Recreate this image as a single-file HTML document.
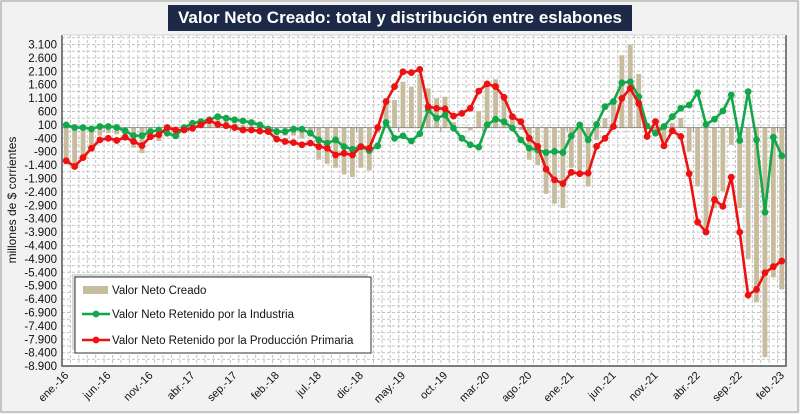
<!DOCTYPE html>
<html><head><meta charset="utf-8">
<style>
html,body{margin:0;padding:0;background:#f2f2f2;}
body{width:800px;height:414px;overflow:hidden;position:relative;font-family:"Liberation Sans",sans-serif;}
#title{position:absolute;left:168px;top:5px;width:464px;height:26px;background:#1c2a48;color:#fff;font-weight:bold;font-size:17px;line-height:26px;text-align:center;}
svg{position:absolute;left:0;top:0;}
</style></head>
<body>
<div id="title">Valor Neto Creado: total y distribución entre eslabones</div>
<svg id="chart" width="800" height="414"></svg>
<script>
const categories=[];(function(){const m=['ene.','feb.','mar.','abr.','may.','jun.','jul.','ago.','sep.','oct.','nov.','dic.'];for(let i=0;i<86;i++){categories.push(m[i%12]+'-'+(16+Math.floor(i/12)));}})();
const valorNetoCreado=[-1150,-1400,-1100,-700,-300,-200,-250,-300,-750,-950,-300,-500,-100,-300,50,200,250,350,450,250,150,100,50,50,-100,-300,-300,-300,-400,-300,-1200,-1350,-1500,-1750,-1850,-1500,-1600,-200,1000,1030,
1710,1530,2000,1460,1090,1150,200,0,-100,620,1530,1800,1030,410,-90,-1200,-1390,-2470,-2840,-3000,-1500,-1600,-2200,-460,350,900,2700,3100,2000,0,-300,-500,170,360,-890,-2200,-3800,-3000,-2380,-640,-3000,-4920,-6520,-8570,-5590,-6040];
const industria=[100,0,0,-50,40,40,0,-120,-300,-300,-150,-90,-210,-310,0,160,220,290,410,350,290,250,190,100,-60,-150,-150,-60,-60,-210,-460,-580,-460,-710,-810,-710,-860,-680,190,-400,
-310,-500,-230,660,350,470,-20,-400,-640,-730,100,310,220,-20,-460,-770,-830,-930,-890,-930,-310,100,-460,120,780,970,1670,1710,1150,60,-210,40,410,720,840,1300,120,310,620,1220,-480,1340,-460,-3160,-360,-1050];
const primaria=[-1240,-1450,-1120,-770,-460,-400,-480,-360,-520,-670,-340,-270,0,-90,-90,-30,100,260,120,70,0,-90,-90,-130,-150,-430,-520,-560,-640,-580,-710,-770,-1020,-960,-1020,-710,-770,0,970,1530,
2080,2050,2170,780,720,700,430,530,720,1360,1630,1530,1130,410,220,-400,-700,-1550,-1950,-2090,-1670,-1720,-1700,-700,-400,40,1090,1460,900,-330,220,-680,-120,-330,-1720,-3530,-3900,-2690,-2940,-1850,-3900,-6250,-6040,-5420,-5190,-4980];
const yTicks=[3100,2600,2100,1600,1100,600,100,-400,-900,-1400,-1900,-2400,-2900,-3400,-3900,-4400,-4900,-5400,-5900,-6400,-6900,-7400,-7900,-8400,-8900];

const NS='http://www.w3.org/2000/svg';
const svg=document.getElementById('chart');
const PL=62,PR=786,PT=35,PB=366;
const n=categories.length, step=(PR-PL)/n;
function X(i){return PL+step*(i+0.5);}
function Y(v){return 44.5+(3100-v)*0.0268;}
function el(t,a,p){const e=document.createElementNS(NS,t);for(const k in a)e.setAttribute(k,a[k]);(p||svg).appendChild(e);return e;}
function fmt(v){const s=Math.abs(v).toString().replace(/\B(?=(\d{3})+(?!\d))/g,'.');return (v<0?'-':'')+s;}

// frame
const frame=el('rect',{x:1,y:1,width:797,height:411,fill:'none',stroke:'#9a9a9a','stroke-width':1});


const plot=el('rect',{x:PL,y:PT,width:PR-PL,height:PB-PT,fill:'#fff'});



// grid
const grid=el('g',{stroke:'#c4c4c4','stroke-width':1,'stroke-dasharray':'3,2'});


for(let i=1;i<n;i++){el('line',{x1:PL+step*i,x2:PL+step*i,y1:PT,y2:PB},grid);}
for(let v=3350;v>-8900;v-=250){el('line',{x1:PL,x2:PR,y1:Y(v),y2:Y(v)},grid);}

// bars
const bars=el('g',{fill:'#c8bc9e'});


valorNetoCreado.forEach((v,i)=>{
  const y0=Y(0),y1=Y(v);
  const r=el('rect',{x:X(i)-2.4,y:Math.min(y0,y1),width:4.8,height:Math.abs(y1-y0)},bars);
  
  
});

// zero line + ticks
const zl=el('line',{x1:PL,x2:PR,y1:Y(0),y2:Y(0),stroke:'#8a8a8a','stroke-width':1});


for(let i=0;i<=n;i+=5){el('line',{x1:PL+step*i,x2:PL+step*i,y1:Y(0),y2:Y(0)+4,stroke:'#8a8a8a'});}

function series(data,color,name){
  const g=el('g',{});
  
  
  el('polyline',{points:data.map((v,i)=>X(i)+','+Y(v)).join(' '),fill:'none',stroke:color,'stroke-width':2.6,'stroke-linejoin':'round'},g);
  data.forEach((v,i)=>{
    const c=el('circle',{cx:X(i),cy:Y(v),r:3.4,fill:color},g);
    
    
  });
}
series(industria,'#12a84a','industria-series');
series(primaria,'#ee1111','produccion-primaria-series');

// border
const bd=el('path',{d:`M${PL} ${PT} V${PB} H${PR} V${PT}`,fill:'none',stroke:'#555','stroke-width':1.5});


el('line',{x1:PL,x2:PR,y1:PT,y2:PT,stroke:'#d0d0d0'});

// y labels
yTicks.forEach(v=>{
  const t=el('text',{x:57,y:Y(v)+4,'text-anchor':'end','font-size':'11.5','fill':'#111','font-family':'Liberation Sans, sans-serif'});
  t.textContent=fmt(v);
  
  
});
const yt=el('text',{x:0,y:0,transform:'translate(16,200) rotate(-90)','text-anchor':'middle','font-size':'12','fill':'#111','font-family':'Liberation Sans, sans-serif'});
yt.textContent='millones de $ corrientes';



// x labels
for(let i=0;i<n;i+=5){
  const x=X(i)+3,y=376;
  const t=el('text',{x:x,y:y,transform:`rotate(-45 ${x} ${y})`,'text-anchor':'end','font-size':'11','fill':'#111','font-family':'Liberation Sans, sans-serif'});
  t.textContent=categories[i];
  
  
}

// legend
const lg=el('g',{});


el('rect',{x:72,y:274,width:296,height:76,fill:'#d8d8d8'},lg);
el('rect',{x:75,y:277,width:296,height:76,fill:'#fff',stroke:'#333','stroke-width':1},lg);
const entries=[['Valor Neto Creado','bar','#c8bc9e',290],['Valor Neto Retenido por la Industria','line','#12a84a',314],['Valor Neto Retenido por la Producción Primaria','line','#ee1111',340]];
entries.forEach(e=>{
  const g=el('g',{},lg);
  
  
  if(e[1]=='bar'){el('rect',{x:83,y:e[3]-4,width:25,height:8,fill:e[2]},g);}
  else{el('line',{x1:82,x2:110,y1:e[3],y2:e[3],stroke:e[2],'stroke-width':2.6},g);el('circle',{cx:96,cy:e[3],r:3.4,fill:e[2]},g);}
  const t=el('text',{x:112,y:e[3]+4,'font-size':'11.5','fill':'#111','font-family':'Liberation Sans, sans-serif'},g);
  t.textContent=e[0];
});
</script>
</body></html>
